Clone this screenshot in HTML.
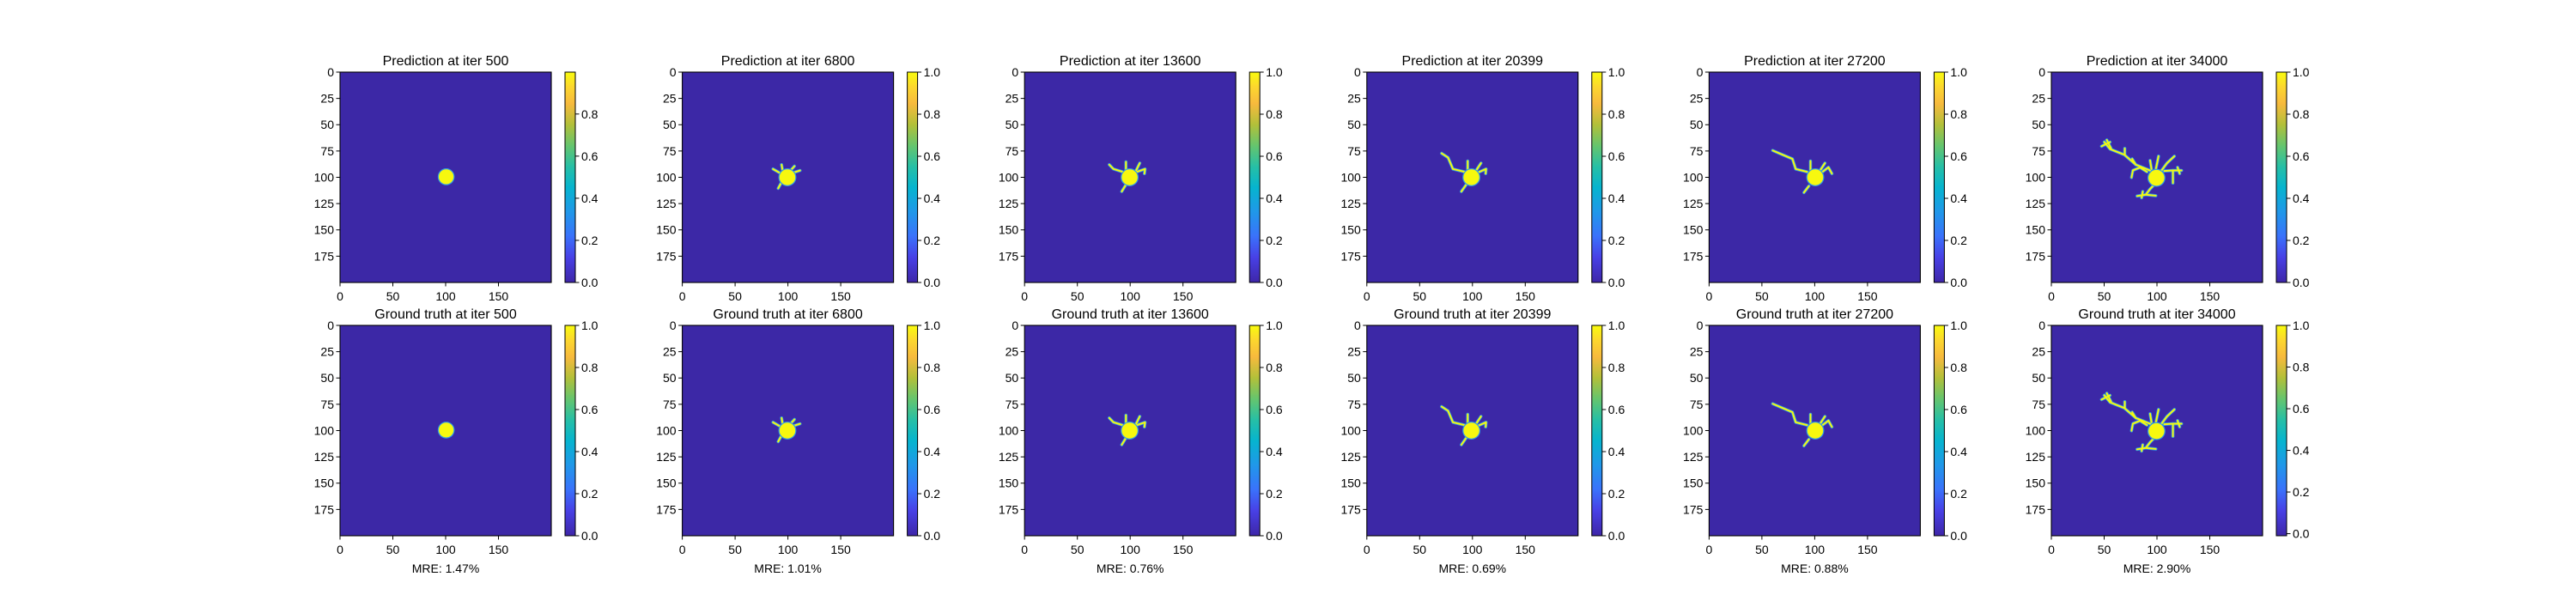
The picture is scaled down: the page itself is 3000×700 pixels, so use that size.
<!DOCTYPE html>
<html><head><meta charset="utf-8">
<style>
html,body{margin:0;padding:0;background:#fff;}
svg{display:block;}
text{font-family:"Liberation Sans","DejaVu Sans",sans-serif;fill:#000;}
</style></head>
<body>
<svg id="fig" width="3000" height="700" viewBox="0 0 3000 700" xmlns="http://www.w3.org/2000/svg">
<defs>
<linearGradient id="parula" x1="0" y1="1" x2="0" y2="0">
<stop offset="0" stop-color="#3e26a8"/>
<stop offset="0.12" stop-color="#4841e6"/>
<stop offset="0.22" stop-color="#3a72fb"/>
<stop offset="0.33" stop-color="#2196ea"/>
<stop offset="0.45" stop-color="#06b4cf"/>
<stop offset="0.55" stop-color="#26bfa6"/>
<stop offset="0.65" stop-color="#65c56e"/>
<stop offset="0.75" stop-color="#b2c03a"/>
<stop offset="0.85" stop-color="#f7ba3d"/>
<stop offset="0.93" stop-color="#fcd72e"/>
<stop offset="1" stop-color="#f9fb0e"/>
</linearGradient>
</defs>
</svg>
<script>
// ---- data ----
const iters = [500, 6800, 13600, 20399, 27200, 34000];
const mre = ["1.47%", "1.01%", "0.76%", "0.69%", "0.88%", "2.90%"];
const predMax = [0.999, 1.0, 1.0, 1.0, 1.0, 1.0];
const gtMin = [0, 0, 0, 0, 0, -0.01];
const blobCenter = [[100,99],[99,99.5],[99,99.5],[98.5,99.5],[100,99.5],[99,100]];
const blobRadius = [7.5, 8, 8, 8, 8, 8];
const xTicks = [0, 50, 100, 150];
const yTicks = [0, 25, 50, 75, 100, 125, 150, 175];
const cbTicks = [0, 0.2, 0.4, 0.6, 0.8, 1.0];
const branches = [
  [],
  [[[93,96],[85.4,91.6]],[[95,96],[93.5,87.5]],[[102,93],[105.7,88.9]],[[105,95],[111,93]],[[93,105],[90.3,110]]],
  [[[92.3,94.3],[83.7,91.6],[79.7,87.5]],[[95.5,94],[95.5,84.8]],[[104.6,94],[108.6,86]],[[104,95],[113.6,91.6],[113,96]],[[95.5,106.5],[91.5,113]]],
  [[[92,94.3],[81,91.6],[76.4,80.7],[70.3,76.7]],[[95,93],[95,84]],[[103,93],[107.6,86]],[[104.6,95],[112.4,91.6],[112,96]],[[93.6,106.5],[89,113]]],
  [[[92.2,94.3],[81.5,91.6],[78.4,82],[69,78],[59.7,74]],[[95.5,93],[95.5,84]],[[104.6,93],[109.2,86]],[[106,95],[112.5,90],[115.8,96]],[[94,107.8],[89.3,114]]],
  [[[93,93],[79.4,87.5],[68.5,78],[55,72.6],[49.6,65.9]],[[52,64],[56,72]],[[47,70],[55,66]],[[79.4,87.5],[76,82]],[[69,78],[69,72]],
   [[103.8,93],[109,86],[116,79.4]],[[106.5,93.5],[114.6,93],[122.8,93]],[[114.6,93],[114.6,105]],[[119,90],[121,96]],
   [[94.3,91.6],[93,83.5]],[[98.4,92],[101,79.4]],[[90,94.3],[83.5,90.2],[76.7,92.9],[75.4,99.7]],
   [[97,106.5],[93,110.6],[88.9,116],[80.7,117.3]],[[88.9,116],[98.4,117]],[[86,113],[85,119]]]
];
// ---- layout ----
const svg = document.getElementById('fig');
const NS = 'http://www.w3.org/2000/svg';
const colLeft = k => 396 + 398.6 * k;
const axW = 246, axH = 245;
const rowTop = [84, 379];
function el(tag, attrs, parent) {
  const e = document.createElementNS(NS, tag);
  for (const k in attrs) e.setAttribute(k, attrs[k]);
  (parent || svg).appendChild(e);
  return e;
}
const BG = '#3c28a6', YEL = '#f7f80f', EDGE = '#2f9be6';
for (let r = 0; r < 2; r++) {
  for (let c = 0; c < 6; c++) {
    const L = colLeft(c), T = rowTop[r];
    const sx = v => L + (v + 0.5) / 200 * axW;
    const sy = v => T + (v + 0.5) / 200 * axH;
    const g = el('g', {});
    
    
    const t = el('text', {x: L + axW / 2, y: T - 8, 'text-anchor': 'middle', 'font-size': 16}, g);
    t.textContent = (r === 0 ? 'Prediction at iter ' : 'Ground truth at iter ') + iters[c];
    
    
    const img = el('g', {}, g);
    
    
    el('rect', {x: L, y: T, width: axW, height: axH, fill: BG}, img);
    const cs = axW / 200;
    branches[c].forEach(pl => {
      const pts = pl.map(p => sx(p[0]) + ',' + sy(p[1])).join(' ');
      el('polyline', {points: pts, fill: 'none', stroke: EDGE, 'stroke-width': 3.6, 'stroke-linejoin': 'round', 'stroke-linecap': 'round'}, img);
    });
    branches[c].forEach(pl => {
      const pts = pl.map(p => sx(p[0]) + ',' + sy(p[1])).join(' ');
      const b = el('polyline', {points: pts, fill: 'none', stroke: YEL, 'stroke-width': 2, 'stroke-linejoin': 'round', 'stroke-linecap': 'round'}, img);
      
      
    });
    const bc = blobCenter[c];
    const blob = el('circle', {cx: sx(bc[0]), cy: sy(bc[1]), r: blobRadius[c] * cs, fill: YEL, stroke: EDGE, 'stroke-width': 1.2}, img);
    
    
    el('rect', {x: L, y: T, width: axW, height: axH, fill: 'none', stroke: '#000', 'stroke-width': 1.1}, g);
    // x ticks
    xTicks.forEach(v => {
      const x = sx(v) - cs * 0.5;
      el('line', {x1: x, x2: x, y1: T + axH, y2: T + axH + 4.5, stroke: '#000', 'stroke-width': 1}, g);
      const tx = el('text', {x: x, y: T + axH + 21, 'text-anchor': 'middle', 'font-size': 14}, g);
      tx.textContent = v;
      
      
    });
    yTicks.forEach(v => {
      const y = sy(v) - cs * 0.5;
      el('line', {x1: L - 4.5, x2: L, y1: y, y2: y, stroke: '#000', 'stroke-width': 1}, g);
      const ty = el('text', {x: L - 7, y: y + 5, 'text-anchor': 'end', 'font-size': 14}, g);
      ty.textContent = v;
      
      
    });
    // colorbar
    const cbL = L + 262, cbW = 12;
    const vmin = r === 0 ? 0 : gtMin[c];
    const vmax = r === 0 ? predMax[c] : 1.0;
    const cbY = v => T + axH - (v - vmin) / (vmax - vmin) * axH;
    const cb = el('rect', {x: cbL, y: T, width: cbW, height: axH, fill: 'url(#parula)', stroke: '#000', 'stroke-width': 1}, g);
    
    
    cbTicks.forEach(v => {
      if (v > vmax + 1e-9 || v < vmin - 1e-9) return;
      const y = cbY(v);
      el('line', {x1: cbL + cbW, x2: cbL + cbW + 4.5, y1: y, y2: y, stroke: '#000', 'stroke-width': 1}, g);
      const tl = el('text', {x: cbL + cbW + 7, y: y + 5, 'font-size': 14}, g);
      tl.textContent = v.toFixed(1);
      
      
    });
    if (r === 1) {
      const m = el('text', {x: L + axW / 2, y: T + axH + 43, 'text-anchor': 'middle', 'font-size': 14}, g);
      m.textContent = 'MRE: ' + mre[c];
      
      
    }
  }
}
</script>
</body></html>
